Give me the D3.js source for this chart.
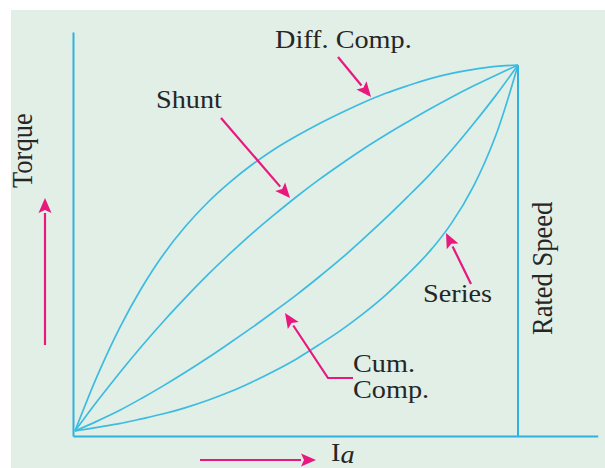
<!DOCTYPE html>
<html><head><meta charset="utf-8">
<script src="https://cdn.jsdelivr.net/npm/d3@7"></script>
<style>html,body{margin:0;padding:0;background:#fff;}svg{display:block;}</style>
</head><body>
<svg id="chart" width="605" height="468"></svg>
<script>
// ---- data (normalised armature current vs torque) ----
const iaValues = [0, 0.05, 0.1, 0.15, 0.2, 0.25, 0.3, 0.35, 0.4, 0.45, 0.5, 0.55, 0.6, 0.65, 0.7, 0.75, 0.8, 0.85, 0.9, 0.95, 1];
const diffComp = [0, 0.150, 0.280, 0.390, 0.483, 0.560, 0.625, 0.680, 0.728, 0.770, 0.806, 0.839, 0.869, 0.897, 0.922, 0.943, 0.962, 0.977, 0.988, 0.996, 1];
const shunt    = [0, 0.081, 0.158, 0.231, 0.300, 0.365, 0.427, 0.485, 0.540, 0.591, 0.640, 0.686, 0.729, 0.770, 0.808, 0.844, 0.879, 0.912, 0.943, 0.972, 1];
const cumComp  = [0, 0.027, 0.056, 0.089, 0.124, 0.161, 0.200, 0.241, 0.283, 0.327, 0.372, 0.420, 0.470, 0.524, 0.580, 0.639, 0.700, 0.767, 0.840, 0.917, 1];
const series   = [0, 0.010, 0.020, 0.033, 0.047, 0.064, 0.084, 0.107, 0.134, 0.164, 0.197, 0.235, 0.275, 0.320, 0.370, 0.427, 0.490, 0.568, 0.670, 0.808, 1];
const seriesNames = ["Diff. Comp.", "Shunt", "Cum. Comp.", "Series"];
const xAxisDomain = [0, 1.18];
const yAxisDomain = [0, 1.09];
const ratedSpeed  = 1;

// ---- layout ----
const svg = d3.select("#chart");
const curveColor = "#3dbbe2", axisColor = "#2fb2df", pink = "#e8187f", textColor = "#262626";
const font = "'Liberation Serif','Times New Roman',serif";

svg.append("rect").attr("x", 11).attr("y", 10).attr("width", 594).attr("height", 458).attr("fill", "#e1efe6");

const x = d3.scaleLinear().domain([0, 1]).range([75, 518]);
const y = d3.scaleLinear().domain([0, 1]).range([431, 65]);
const xa = d3.scaleLinear().domain(xAxisDomain).range([x(0) - 2, x(xAxisDomain[1])]);
const ya = d3.scaleLinear().domain(yAxisDomain).range([y(0) + 5, y(yAxisDomain[1])]);

// axes (lines only)
const gx = svg.append("g").attr("transform", `translate(0,${y(0) + 5})`)
  .call(d3.axisBottom(xa).tickValues([]).tickSizeOuter(0));
const gy = svg.append("g").attr("transform", `translate(${x(0) - 2},0)`)
  .call(d3.axisLeft(ya).tickValues([]).tickSizeOuter(0));
[gx, gy].forEach(g => g.select(".domain").attr("stroke", axisColor).attr("stroke-width", 2));

// rated speed line
svg.append("line")
  .attr("x1", x(ratedSpeed)).attr("x2", x(ratedSpeed))
  .attr("y1", y(1)).attr("y2", y(0) + 5)
  .attr("stroke", axisColor).attr("stroke-width", 2);

// curves
const line = d3.line().x(d => x(d[0])).y(d => y(d[1])).curve(d3.curveCatmullRom.alpha(0.5));
[diffComp, shunt, cumComp, series].forEach((s, i) => {
  svg.append("path")
    .datum(iaValues.map((v, j) => [v, s[j]]))
    .attr("class", "curve").attr("data-name", seriesNames[i])
    .attr("d", line).attr("fill", "none")
    .attr("stroke", curveColor).attr("stroke-width", 1.7);
});

// arrows
function arrow(points) {
  const n = points.length;
  const [x1, y1] = points[n - 2], [x2, y2] = points[n - 1];
  const ang = Math.atan2(y2 - y1, x2 - x1);
  const L = 15, W = 6.5;
  const bx = x2 - L * Math.cos(ang), by = y2 - L * Math.sin(ang);
  const pts = points.slice(0, n - 1).concat([[bx, by]]);
  svg.append("path").attr("d", d3.line()(pts)).attr("fill", "none")
    .attr("stroke", pink).attr("stroke-width", 2.2);
  const px = -Math.sin(ang), py = Math.cos(ang);
  svg.append("path")
    .attr("d", d3.line()([[x2, y2], [bx + W * px, by + W * py], [bx + 3 * Math.cos(ang), by + 3 * Math.sin(ang)], [bx - W * px, by - W * py]]) + "Z")
    .attr("fill", pink);
}
arrow([[45, 345], [45, 198]]);
arrow([[200, 460], [316, 460]]);
arrow([[338, 57], [371, 97]]);
arrow([[221, 118], [290, 198]]);
arrow([[471, 284], [446, 233]]);
arrow([[353, 378], [328, 378], [285, 313]]);

// labels
function label(txt, tx, ty, rot) {
  return svg.append("text")
    .attr("transform", rot ? `translate(${tx},${ty}) rotate(-90) scale(1,1.1)` : `translate(${tx},${ty}) scale(1.13,1)`)
    .attr("font-family", font).attr("font-size", rot ? 26.5 : 25).attr("fill", textColor).text(txt);
}
label("Diff. Comp.", 275, 48);
label("Shunt", 156, 108);
label("Series", 423, 302);
label("Cum.", 353, 372);
label("Comp.", 353, 398);
label("Torque", 32, 188, true);
label("Rated Speed", 552, 335, true);

const ia = svg.append("text").attr("transform", "translate(331,461) scale(1.13,1)")
  .attr("font-family", font).attr("font-size", 25).attr("fill", textColor);
ia.append("tspan").text("I");
ia.append("tspan").attr("font-style", "italic").attr("dy", 2).text("a");
</script>
</body></html>
